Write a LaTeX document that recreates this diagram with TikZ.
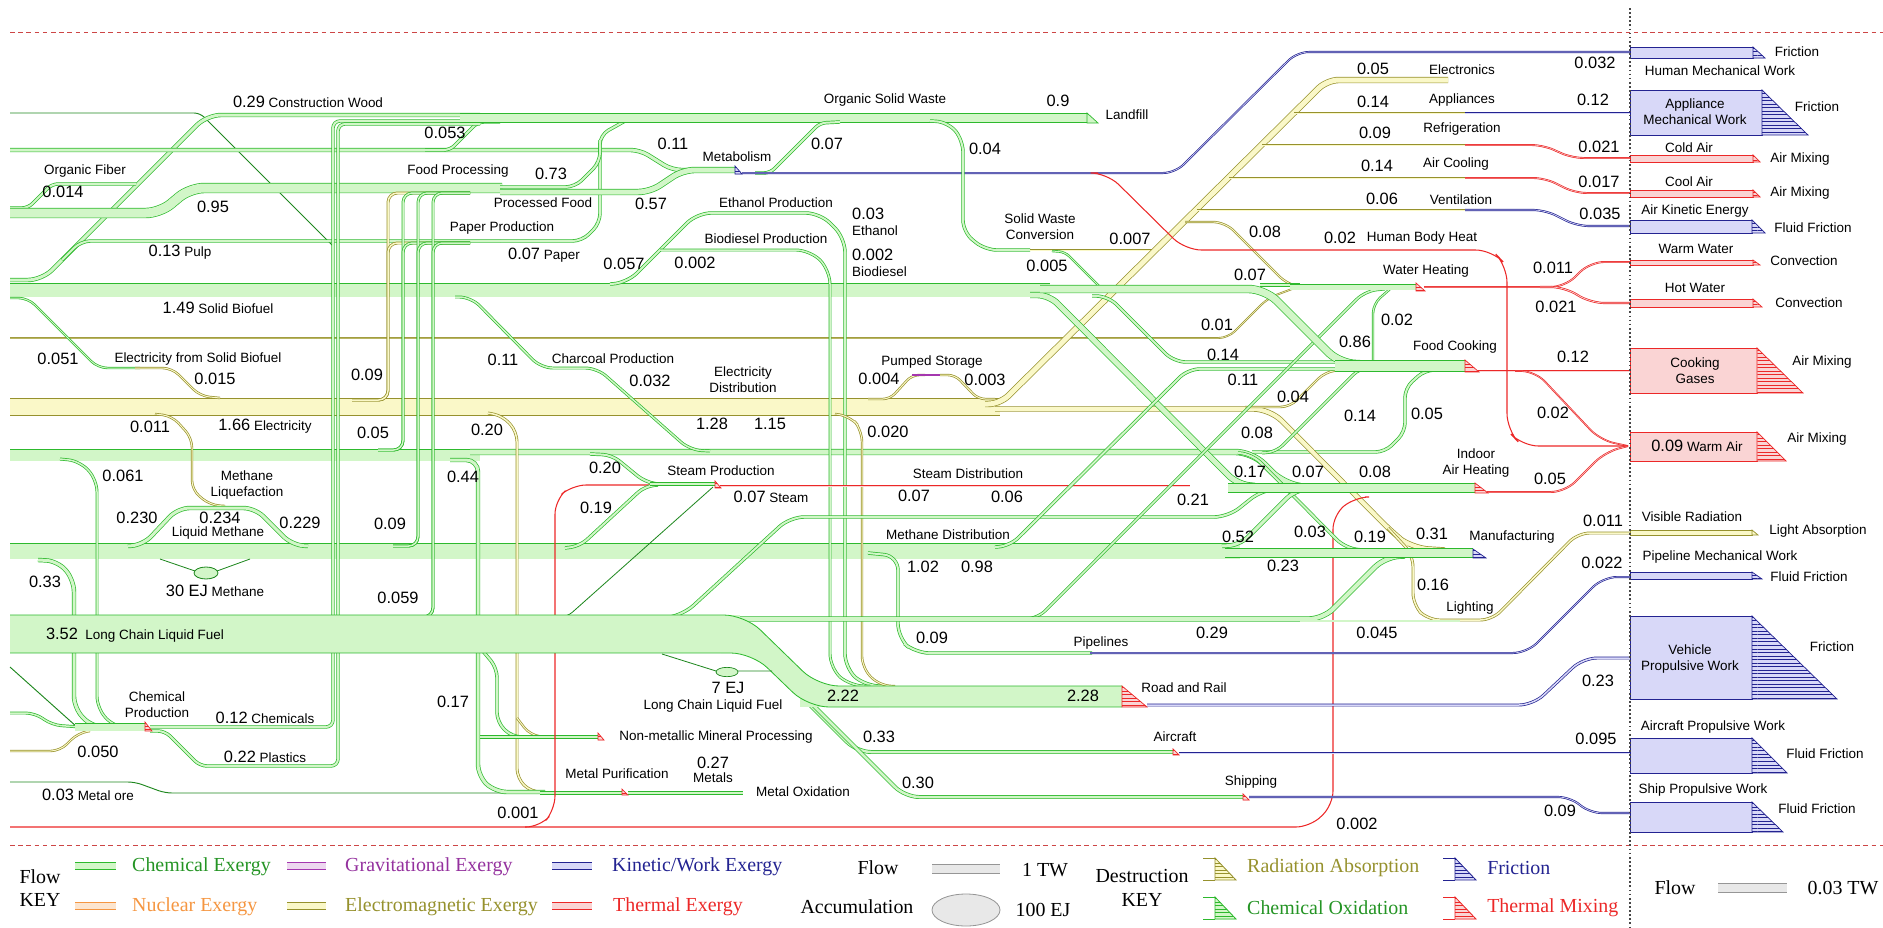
\documentclass[tikz,border=0pt]{standalone}
\usepackage{fontspec}
\setmainfont{Liberation Sans}
\newfontfamily\keyfont{Liberation Serif}
\usetikzlibrary{patterns}
\definecolor{ChemLine}{RGB}{45,185,45}
\definecolor{ChemDark}{RGB}{30,135,30}
\definecolor{ChemFill}{RGB}{210,246,200}
\definecolor{ElecLine}{RGB}{150,145,45}
\definecolor{ElecFill}{RGB}{250,248,200}
\definecolor{KinLine}{RGB}{35,35,145}
\definecolor{KinFill}{RGB}{216,216,248}
\definecolor{HeatLine}{RGB}{236,40,40}
\definecolor{HeatFill}{RGB}{250,212,212}
\definecolor{GravLine}{RGB}{165,55,175}
\definecolor{NucLine}{RGB}{245,150,65}
\definecolor{GridRed}{RGB}{205,70,70}
\definecolor{KeyGray}{RGB}{70,70,70}
\definecolor{SampleLine}{RGB}{150,150,150}
\definecolor{SampleFill}{RGB}{232,232,232}
\newcommand{\val}[1]{{\fontsize{14}{16}\selectfont #1}}

\begin{document}
\begin{tikzpicture}[x=0.3mm,y=-0.3mm,
  flow/.style={line width=0.6pt,rounded corners=8pt},
  bw/.style={double distance=#1*0.854pt},
  chem/.style={flow,draw=ChemLine,double=ChemFill},
  elec/.style={flow,draw=ElecLine,double=ElecFill},
  kin/.style={flow,draw=KinLine,double=KinFill},
  heat/.style={flow,draw=HeatLine,double=HeatFill},
  wire/.style={line width=0.8pt,rounded corners=8pt},
  lbl/.style={font=\fontsize{11.5}{13.5}\selectfont,inner sep=0pt,align=center},
  num/.style={font=\fontsize{14}{16}\selectfont,inner sep=0pt},
  keytext/.style={font=\keyfont\fontsize{17}{20}\selectfont,inner sep=0pt,align=center}]
\useasboundingbox (0,0) rectangle (1883,927);

% frame lines
\draw[GridRed,line width=0.7pt,dash pattern=on 4pt off 3pt] (10,32)--(1883,32);
\draw[GridRed,line width=0.7pt,dash pattern=on 4pt off 3pt] (10,845)--(1883,845);

% main horizontal bands
\draw[chem,bw=13] (10,290)--(1050,290);
\draw[elec,bw=16] (10,407)--(1000,407);
\draw[chem,bw=11] (10,455)--(480,455);
\draw[chem,bw=5,rounded corners=14pt] (470,452)--(1252,452)--(1284,484)--(1300,486);
\draw[chem,bw=2] (1252,452)--(1385,452)--(1405,432)--(1405,388)--(1425,370)--(1445,370);
\draw[chem,bw=15] (10,551)--(1240,551);
\draw[elec,bw=0.5] (10,338)--(1228,338)--(1268,298)--(1292,289);

% wood, food, paper, waste
\draw[wire,ChemDark,rounded corners=5pt] (10,113)--(200,113)--(333,246);
\draw[chem,bw=3,rounded corners=12pt] (10,280)--(42,280)--(207,115)--(480,115);
\draw[chem,bw=2,rounded corners=5pt] (10,208)--(28,208)--(52,184)--(136,184);
\draw[chem,bw=2] (62,260)--(81,241)--(500,241);
\draw[chem,bw=3] (10,150)--(640,150)--(672,170)--(700,170);
\draw[chem,bw=2,rounded corners=5pt] (425,150)--(450,150)--(478,122)--(500,122);
\draw[chem,bw=9,rounded corners=12pt] (10,213)--(160,213)--(190,188)--(502,188);
\draw[chem,bw=2] (500,241)--(582,241)--(600,223)--(600,135)--(625,121);
\draw[chem,bw=2] (500,187)--(575,187)--(600,162)--(600,140);
\draw[chem,bw=5,rounded corners=10pt] (500,192)--(650,192)--(683,170)--(735,170);
\draw[chem,bw=2,rounded corners=6pt] (150,727)--(333,727)--(333,121)--(480,121);
\draw[chem,bw=2,rounded corners=6pt] (150,731)--(165,731)--(200,766)--(338,766)--(338,124)--(480,124);
\draw[chem,bw=8] (460,118)--(1087,118);
\draw[chem,bw=2,rounded corners=5pt] (755,173)--(770,173)--(820,123)--(840,122);
\draw[kin,bw=0.6,rounded corners=10pt] (742,173)--(1175,173)--(1297,52)--(1630,52);
\draw[chem,bw=2,rounded corners=10pt] (930,121)--(948,122)--(963,140)--(963,232)--(985,250)--(1030,250);
\draw[elec,bw=0.6] (1030,250)--(1158,250);
\draw[chem,bw=1,rounded corners=5pt] (1052,251)--(1065,252)--(1100,287);

% biofuels to road transport
\draw[chem,bw=2,rounded corners=12pt] (610,284)--(627,283)--(697,213)--(820,213)--(845,238)--(845,668)--(865,686)--(885,686);
\draw[chem,bw=1.5,rounded corners=12pt] (660,250)--(810,250)--(830,270)--(830,668)--(850,686)--(870,686);

% electricity uses
\draw[elec,bw=5,rounded corners=10pt] (985,404)--(1000,404)--(1327,80)--(1448,80);
\foreach \y/\x in {113/1294,145/1262,178/1229,210/1197} \draw[elec,bw=0.9] (\x,\y)--(1466,\y);
\draw[elec,bw=0.9,rounded corners=10pt] (1185,222)--(1225,222)--(1288,285)--(1300,287);
\draw[kin,bw=0.9] (1465,113)--(1630,113);
\draw[heat,bw=0.5,rounded corners=10pt] (1465,145)--(1543,145)--(1572,158)--(1630,158);
\draw[heat,bw=0.5,rounded corners=10pt] (1465,178)--(1545,178)--(1575,193)--(1630,193);
\draw[kin,bw=0.7,rounded corners=10pt] (1465,210)--(1545,210)--(1577,226)--(1630,226);
\draw[elec,bw=4,rounded corners=14pt] (995,409)--(1270,409)--(1395,535)--(1412,548)--(1445,550);
\draw[elec,bw=1.5,rounded corners=10pt] (1388,528)--(1413,555)--(1413,605)--(1428,620)--(1492,620)--(1578,533)--(1630,533);
\draw[elec,bw=1,rounded corners=8pt] (1245,407)--(1290,407)--(1325,372)--(1340,370);

% pumped storage
\draw[elec,bw=1,rounded corners=6pt] (868,399)--(890,399)--(912,375)--(925,375);
\draw[GravLine,line width=1.2pt] (912,375)--(945,375);
\draw[elec,bw=1,rounded corners=6pt] (940,375)--(955,375)--(978,399)--(995,399);

% electricity sources and branches
\draw[chem,bw=1] (10,298)--(28,298)--(98,368)--(140,368);
\draw[elec,bw=1] (135,368)--(172,368)--(200,396)--(220,398);
\draw[chem,bw=1.5,rounded corners=10pt] (455,297)--(471,297)--(541,368)--(597,368)--(690,450)--(710,451);
\draw[elec,bw=1] (155,414)--(172,416)--(192,438)--(192,490)--(210,505)--(225,506);
\draw[elec,bw=1.5] (488,413)--(503,416)--(517,432)--(517,778)--(531,792)--(545,792);
\draw[elec,bw=1] (517,718)--(530,735)--(545,737);
\draw[elec,bw=1,rounded corners=10pt] (835,414)--(850,416)--(862,430)--(862,668)--(880,686)--(895,686);

% inputs of food processing and paper production
\foreach \x/\y/\s/\lc/\fc in {388/400/352/ElecLine/ElecFill,403/450/378/ChemLine/ChemFill,418/546/393/ChemLine/ChemFill,433/617/408/ChemLine/ChemFill}{
  \draw[flow,draw=\lc,double=\fc,bw=1.5] (\s,\y)--(\x,\y)--(\x,193)--(470,193);
  \draw[flow,draw=\lc,double=\fc,bw=1.5] (\s,\y)--(\x,\y)--(\x,243)--(470,243);}

% methane liquefaction and chemicals
\draw[chem,bw=3,rounded corners=10pt] (128,546)--(143,545)--(178,508)--(255,508)--(292,545)--(308,546);
\draw[ChemDark,line width=0.7pt] (160,559)--(195,571) (217,571)--(250,559);
\draw[fill=ChemFill,draw=ChemDark,line width=0.7pt] (206,573) ellipse [x radius=3.6mm,y radius=1.8mm];
\draw[chem,bw=3,rounded corners=10pt] (38,560)--(58,561)--(74,580)--(74,708)--(92,727)--(100,727);
\draw[chem,bw=1.5,rounded corners=10pt] (60,459)--(80,461)--(97,480)--(97,708)--(114,727)--(122,727);
\draw[ChemDark,line width=0.8pt] (10,667)--(77,727);
\draw[chem,bw=1.5] (10,713)--(35,713)--(52,725)--(80,727);
\draw[elec,bw=1] (10,751)--(60,751)--(78,733)--(90,731);
\draw[chem,bw=7] (75,727)--(146,727);
\draw[wire,ChemDark,rounded corners=6pt] (10,782)--(135,782)--(165,793)--(545,793);
\draw[chem,bw=3,rounded corners=10pt] (450,460)--(478,460)--(478,776)--(495,792)--(545,792);
\draw[chem,bw=2] (482,650)--(497,668)--(497,722)--(512,737)--(525,737);
\draw[chem,bw=2] (480,737)--(599,737);
\draw[chem,bw=2] (540,793)--(623,793);
\draw[chem,bw=2] (628,793)--(743,793);

% steam
\draw[HeatLine,line width=0.9pt,rounded corners=12pt] (10,827)--(1310,827)--(1333,805)--(1333,515)--(1355,497)--(1365,497);
\draw[HeatLine,line width=0.9pt,rounded corners=12pt] (525,827)--(540,827)--(555,810)--(555,500)--(572,485)--(650,485);
\draw[chem,bw=2] (590,454)--(612,455)--(645,482)--(658,484);
\draw[chem,bw=2] (565,548)--(580,546)--(645,486)--(658,485);
\draw[ChemDark,line width=0.7pt,rounded corners=6pt] (552,617)--(567,617)--(713,487);
\draw[chem,bw=2.5] (650,484)--(716,484);
\draw[heat,bw=0.5] (720,486)--(1190,486);
\draw[chem,bw=2,rounded corners=12pt] (670,617)--(683,615)--(790,517)--(1228,517)--(1262,490)--(1275,489);

% pipelines
\draw[chem,bw=2,rounded corners=12pt] (868,553)--(898,556)--(898,638)--(915,653)--(1092,653);
\draw[kin,bw=0.6,rounded corners=12pt] (1090,653)--(1527,653)--(1603,577)--(1630,577);

% crossing flows to end uses
\draw[chem,bw=5,rounded corners=10pt] (1030,295)--(1049,295)--(1237,484)--(1255,486);
\draw[chem,bw=2,rounded corners=10pt] (1092,296)--(1108,296)--(1174,362)--(1340,362);
\draw[chem,bw=2,rounded corners=10pt] (995,547)--(1010,546)--(1188,369)--(1340,369);
\draw[chem,bw=1.5,rounded corners=10pt] (1022,619)--(1037,619)--(1365,291)--(1385,289);
\draw[chem,bw=1.5] (1262,453)--(1276,452)--(1360,368)--(1375,367);
\draw[chem,bw=2,rounded corners=10pt] (1238,453)--(1252,454)--(1345,548)--(1362,550);
\draw[chem,bw=3,rounded corners=10pt] (1222,546)--(1240,545)--(1295,490)--(1310,489);
\draw[chem,bw=1] (1373,362)--(1373,304)--(1390,289);
\draw[chem,bw=7,rounded corners=14pt] (1040,289)--(1265,289)--(1340,364)--(1360,364);
\draw[chem,bw=2] (1260,285)--(1300,285);

% long chain liquid fuel
\draw[chem,bw=4,rounded corners=12pt] (700,619)--(1323,619)--(1385,557)--(1405,556);
\draw[chem,bw=1.5] (1300,621)--(1460,621);
\draw[chem,bw=2.5,rounded corners=12pt] (760,655)--(857,752)--(1173,752);
\draw[chem,bw=2.5,rounded corners=12pt] (770,662)--(905,797)--(1243,797);
\fill[ChemFill] (10,615) rectangle (740,653);
\fill[ChemFill] (800,686) rectangle (1122,707);
\fill[ChemFill,rounded corners=18pt] (700,615)--(745,615)--(818,686)--(900,686)--(900,707)--(808,707)--(752,653)--(700,653)--cycle;
\draw[ChemLine,line width=0.7pt,rounded corners=18pt] (10,615)--(745,615)--(818,686)--(1122,686);
\draw[ChemLine,line width=0.7pt,rounded corners=18pt] (10,653)--(752,653)--(808,707)--(1122,707);
\draw[ChemDark,line width=0.7pt] (662,654)--(716,671) (738,671)--(772,671);
\draw[fill=ChemFill,draw=ChemDark,line width=0.6pt] (727,672) ellipse [x radius=3.3mm,y radius=1.4mm];

% end-use bands
\draw[chem,bw=5] (1290,287)--(1416,287);
\draw[chem,bw=10] (1335,366)--(1465,366);
\draw[chem,bw=8] (1228,488)--(1475,488);
\draw[chem,bw=8] (1225,553)--(1473,553);

% thermal outputs
\draw[heat,bw=0.5,rounded corners=12pt] (1424,287)--(1565,287)--(1590,262)--(1630,262);
\draw[heat,bw=0.7,rounded corners=12pt] (1540,287)--(1565,287)--(1590,303)--(1630,303);
\draw[heat,bw=0.9] (1478,371)--(1630,371);
\draw[heat,bw=0.3,rounded corners=12pt] (1515,371)--(1535,371)--(1600,440)--(1628,446);
\draw[heat,bw=0.5,rounded corners=12pt] (1487,492)--(1565,492)--(1605,452)--(1628,446);
\draw[HeatLine,line width=0.9pt,rounded corners=14pt] (1098,173)--(1107,173)--(1185,250)--(1492,250)--(1507,266)--(1507,430)--(1522,446)--(1628,446);

% transport work
\draw[kin,bw=1.5,rounded corners=12pt] (1147,705)--(1533,705)--(1583,658)--(1630,658);
\draw[kin,bw=0.7] (1179,753)--(1630,753);
\draw[kin,bw=0.7,rounded corners=10pt] (1249,797)--(1570,797)--(1590,813)--(1630,813);

% boxes on the right
\foreach \ya/\yb/\xb in {47/58/1753,90/135/1762,220/233/1752,572/579/1752,616/699/1752,738/773/1752,802/832/1752}
  \filldraw[draw=KinLine,fill=KinFill,line width=0.7pt] (1630,\ya) rectangle (\xb,\yb);
\foreach \ya/\yb/\xb in {155/162/1753,190/197/1753,260/265/1753,299/307/1753,348/393/1757,432/461/1757}
  \filldraw[draw=HeatLine,fill=HeatFill,line width=0.7pt] (1630,\ya) rectangle (\xb,\yb);
\filldraw[draw=ElecLine,fill=ElecFill,line width=0.7pt] (1630,530) rectangle (1752,535);

% destruction wedges
\foreach \xa/\ya/\xb/\yb in {1416/283/1425/291,1465/360/1479/372,1475/483/1488/493,1122/686/1147/707,145/722/152/731,715/481/721/488,622/789/628/795,598/733/604/740,1173/749/1179/755,1243/794/1249/800,1753/155/1760/162,1753/190/1760/197,1753/260/1760/265,1753/299/1762/307,1757/348/1803/393,1757/432/1786/461}{
  \filldraw[draw=HeatLine,fill=HeatFill,line width=0.6pt] (\xa,\ya)--(\xb,\yb)--(\xa,\yb)--cycle;
  \fill[pattern=horizontal lines,pattern color=HeatLine] (\xa,\ya)--(\xb,\yb)--(\xa,\yb)--cycle;}
\foreach \xa/\ya/\xb/\yb in {1473/549/1486/558,735/166/742/174,1753/47/1765/58,1762/90/1808/135,1752/220/1765/233,1752/572/1762/579,1752/616/1837/699,1752/738/1787/773,1752/802/1783/832}{
  \filldraw[draw=KinLine,fill=KinFill,line width=0.6pt] (\xa,\ya)--(\xb,\yb)--(\xa,\yb)--cycle;
  \fill[pattern=horizontal lines,pattern color=KinLine] (\xa,\ya)--(\xb,\yb)--(\xa,\yb)--cycle;}
\filldraw[draw=ChemLine,fill=ChemFill,line width=0.6pt] (1087,113)--(1098,123)--(1087,123)--cycle;
\filldraw[draw=ElecLine,fill=ElecFill,line width=0.6pt] (1752,530)--(1758,535)--(1752,535)--cycle;

% values
\foreach \x/\y/\t [count=\i] in {445/133/0.053,63/192/0.014,213/207/0.95,551/174/0.73,651/204/0.57,673/144/0.11,827/144/0.07,1058/101/0.9,985/149/0.04,624/264/0.057,695/263/0.002,1130/239/0.007,1047/266/0.005,1250/275/0.07,1265/232/0.08,1340/238/0.02,1373/69/0.05,1373/102/0.14,1375/133/0.09,1377/166/0.14,1382/199/0.06,
  58/359/0.051,215/379/0.015,367/375/0.09,150/427/0.011,373/433/0.05,463/477/0.44,123/476/0.061,137/518/0.230,220/518/0.234,300/523/0.229,390/524/0.09,45/582/0.33,398/598/0.059,
  503/360/0.11,650/381/0.032,879/379/0.004,985/380/0.003,487/430/0.20,712/424/1.28,770/424/1.15,888/432/0.020,605/468/0.20,596/508/0.19,914/496/0.07,1007/497/0.06,923/567/1.02,977/567/0.98,
  1217/325/0.01,1355/342/0.86,1397/320/0.02,1223/355/0.14,1243/380/0.11,1293/397/0.04,1360/416/0.14,1257/433/0.08,1250/472/0.17,1308/472/0.07,1375/472/0.08,1193/500/0.21,1238/537/0.52,1310/532/0.03,1370/537/0.19,1283/566/0.23,
  1427/414/0.05,1432/534/0.31,1433/585/0.16,
  453/702/0.17,98/752/0.050,728/688/7 EJ,843/696/2.22,879/737/0.33,713/763/0.27,918/783/0.30,518/813/0.001,932/638/0.09,1212/633/0.29,1377/633/0.045,1083/696/2.28,1357/824/0.002,
  1595/63/0.032,1593/100/0.12,1599/147/0.021,1599/182/0.017,1600/214/0.035,1553/268/0.011,1556/307/0.021,1573/357/0.12,1553/413/0.02,1550/479/0.05,1603/521/0.011,1602/563/0.022,1598/681/0.23,1596/739/0.095,1560/811/0.09}
  \node[num] (n\i) at (\x,\y) {\t};

% names of flows and processes
\foreach \x/\y/\t [count=\i] in {308/102/\val{0.29} Construction Wood,85/171/Organic Fiber,180/252/\val{0.13} Pulp,218/308/\val{1.49} Solid Biofuel,458/171/Food Processing,543/203/Processed Food,502/228/Paper Production,544/255/\val{0.07} Paper,737/157/Metabolism,885/100/Organic Solid Waste,1127/115/Landfill,776/203/Ethanol Production,766/239/Biodiesel Production,1040/227/Solid Waste\\Conversion,1422/238/Human Body Heat,1462/70/Electronics,1462/100/Appliances,1462/129/Refrigeration,1456/164/Air Cooling,1461/200/Ventilation,1426/271/Water Heating,
  198/359/Electricity from Solid Biofuel,265/426/\val{1.66} Electricity,247/485/Methane\\Liquefaction,218/533/Liquid Methane,215/591/\val{30 EJ} Methane,613/359/Charcoal Production,743/380/Electricity\\Distribution,932/362/Pumped Storage,721/471/Steam Production,771/497/\val{0.07} Steam,968/474/Steam Distribution,948/535/Methane Distribution,1455/347/Food Cooking,1476/463/Indoor\\Air Heating,1512/537/Manufacturing,1470/608/Lighting,
  135/635/\val{3.52}\ \ Long Chain Liquid Fuel,157/705/Chemical\\Production,265/718/\val{0.12} Chemicals,265/757/\val{0.22} Plastics,88/795/\val{0.03} Metal ore,713/706/Long Chain Liquid Fuel,716/737/Non-metallic Mineral Processing,713/778/Metals,617/774/Metal Purification,803/792/Metal Oxidation,1101/643/Pipelines,1184/688/Road and Rail,1175/737/Aircraft,1251/782/Shipping,
  1797/52/Friction,1720/71/Human Mechanical Work,1695/112/Appliance\\Mechanical Work,1817/107/Friction,1689/148/Cold Air,1800/159/Air Mixing,1689/182/Cool Air,1800/193/Air Mixing,1695/211/Air Kinetic Energy,1813/228/Fluid Friction,1696/249/Warm Water,1804/261/Convection,1695/288/Hot Water,1809/303/Convection,1695/371/Cooking\\Gases,1822/362/Air Mixing,1697/446/\val{0.09}\ Warm Air,1817/439/Air Mixing,1692/517/Visible Radiation,1818/531/Light Absorption,1720/557/Pipeline Mechanical Work,1809/577/Fluid Friction,1690/659/Vehicle\\Propulsive Work,1832/647/Friction,1713/727/Aircraft Propulsive Work,1825/754/Fluid Friction,1703/790/Ship Propulsive Work,1817/809/Fluid Friction}
  \node[lbl] (l\i) at (\x,\y) {\t};
\node[lbl,align=left,anchor=west] (eth) at (852,222) {\val{0.03}\\Ethanol};
\node[lbl,align=left,anchor=west] (bio) at (852,263) {\val{0.002}\\Biodiesel};

% flow key
\node[keytext] (kflow) at (40,888) {Flow\\KEY};
\draw[chem,bw=6,rounded corners=0pt] (75,866)--(116,866);
\draw[flow,draw=NucLine,double=NucLine!25,bw=6] (75,906)--(116,906);
\draw[flow,draw=GravLine,double=GravLine!20,bw=6] (287,866)--(326,866);
\draw[elec,bw=6] (287,906)--(326,906);
\draw[kin,bw=6] (552,866)--(592,866);
\draw[heat,bw=6] (552,906)--(592,906);
\node[keytext,anchor=west,text=ChemLine!80!black] (kchem) at (132,867) {Chemical Exergy};
\node[keytext,anchor=west,text=NucLine] (knuc) at (132,907) {Nuclear Exergy};
\node[keytext,anchor=west,text=GravLine!90!black] (kgrav) at (345,867) {Gravitational Exergy};
\node[keytext,anchor=west,text=ElecLine] (kelec) at (345,907) {Electromagnetic Exergy};
\node[keytext,anchor=west,text=KinLine] (kkin) at (612,867) {Kinetic/Work Exergy};
\node[keytext,anchor=west,text=HeatLine] (kheat) at (613,907) {Thermal Exergy};
\node[keytext] (kfl) at (878,868) {Flow};
\draw[flow,draw=SampleLine,double=SampleFill,bw=8] (932,869)--(1000,869);
\node[keytext] (ktw) at (1045,870) {1 TW};
\node[keytext] (kacc) at (857,907) {Accumulation};
\draw[draw=SampleLine,fill=SampleFill,line width=0.7pt] (966,910) ellipse [x radius=10.2mm,y radius=4.8mm];
\node[keytext] (kej) at (1043,910) {100 EJ};
\node[keytext] (kdest) at (1142,888) {Destruction\\KEY};
\foreach \x/\yt/\lc/\fc in {1203/858/ElecLine/ElecFill,1203/897/ChemLine/ChemFill,1443/858/KinLine/KinFill,1443/897/HeatLine/HeatFill}{
  \draw[\lc,line width=0.7pt] (\x,\yt)--(\x+12,\yt) (\x,\yt+22)--(\x+12,\yt+22);
  \filldraw[draw=\lc,fill=\fc,line width=0.7pt] (\x+12,\yt)--(\x+33,\yt+22)--(\x+12,\yt+22)--cycle;
  \fill[pattern=horizontal lines,pattern color=\lc] (\x+12,\yt)--(\x+33,\yt+22)--(\x+12,\yt+22)--cycle;}
\node[keytext,anchor=west,text=ElecLine] (krad) at (1247,868) {Radiation Absorption};
\node[keytext,anchor=west,text=ChemLine!80!black] (koxi) at (1247,908) {Chemical Oxidation};
\node[keytext,anchor=west,text=KinLine] (kfri) at (1487,868) {Friction};
\node[keytext,anchor=west,text=HeatLine] (kmix) at (1487,908) {Thermal Mixing};
\node[keytext] (kfl2) at (1675,888) {Flow};
\draw[flow,draw=SampleLine,double=SampleFill,bw=8] (1718,888)--(1787,888);
\node[keytext] (ktw2) at (1843,888) {0.03 TW};

\draw[KeyGray,line width=0.9pt,dash pattern=on 1.5pt off 2pt] (1630,8)--(1630,927);
\end{tikzpicture}
\end{document}
